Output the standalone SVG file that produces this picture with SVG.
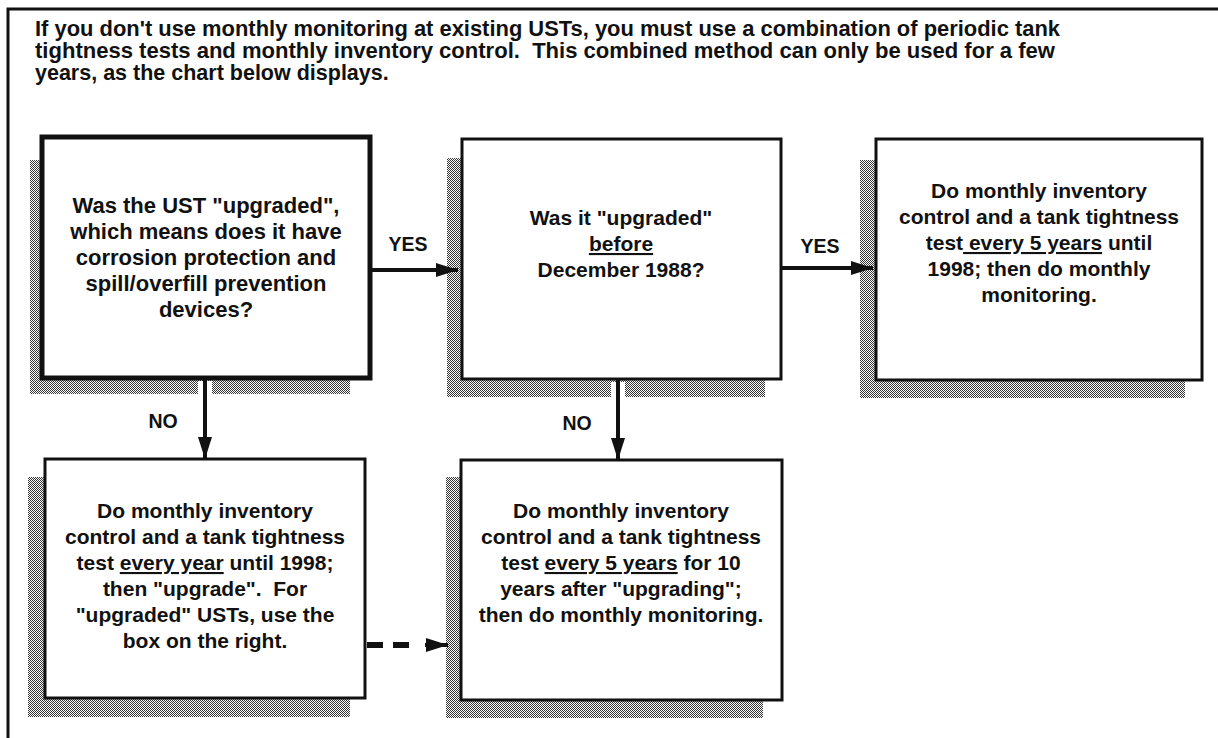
<svg xmlns="http://www.w3.org/2000/svg" width="1218" height="738" viewBox="0 0 1218 738">
<style>
.frame{fill:none;stroke:#111;stroke-width:3}
.box{fill:#fff;stroke:#111;stroke-width:3}
.thick{stroke-width:5}
.shadow{fill:url(#dither)}
.t{font-family:"Liberation Sans",Arial,Helvetica,sans-serif;font-weight:bold;font-size:21px;text-anchor:middle;fill:#111}
.big{font-size:22px}
.intro{font-size:21.5px;text-anchor:start}
.lbl{font-size:19.5px}
.u{text-decoration:underline}
.conn{stroke:#111;stroke-width:4;fill:none}
.gap{stroke:#fff;stroke-width:14;fill:none}
.dash{stroke-width:6;stroke-dasharray:16 10}
</style>
<defs>
<pattern id="dither" width="2" height="2" patternUnits="userSpaceOnUse">
<rect width="2" height="2" fill="#fff"/>
<rect width="1" height="1" fill="#333"/>
<rect x="1" y="1" width="1" height="1" fill="#333"/>
</pattern>
<marker id="ah" viewBox="0 0 22 14" refX="22" refY="7" markerWidth="22" markerHeight="14" markerUnits="userSpaceOnUse" orient="auto">
<path d="M0,0 L22,7 L0,14 z" fill="#111"/>
</marker>
</defs>
<rect width="1218" height="738" fill="#fff"/>
<path class="frame" d="M8,738 V9 H1218"/>
<g id="intro">
<text class="t intro" x="35" y="36" textLength="1025" lengthAdjust="spacingAndGlyphs">If you don't use monthly monitoring at existing USTs, you must use a combination of periodic tank</text>
<text class="t intro" x="35" y="58" textLength="1020" lengthAdjust="spacingAndGlyphs">tightness tests and monthly inventory control.&#160; This combined method can only be used for a few</text>
<text class="t intro" x="35" y="80">years, as the chart below displays.</text>
</g>
<g id="node-q1">
<rect class="shadow" x="30" y="160" width="320" height="234"/>
<rect class="box thick" x="42" y="137" width="328" height="241"/>
<text class="t big" x="206" y="213">Was the UST "upgraded",</text>
<text class="t big" x="206" y="239">which means does it have</text>
<text class="t big" x="206" y="265">corrosion protection and</text>
<text class="t big" x="206" y="291">spill/overfill prevention</text>
<text class="t big" x="206" y="317">devices?</text>
</g>
<g id="node-q2">
<rect class="shadow" x="447" y="158" width="318" height="239"/>
<rect class="box" x="462" y="139" width="319" height="240"/>
<text class="t" x="621" y="225">Was it "upgraded"</text>
<text class="t" x="621" y="251"><tspan class="u">before</tspan></text>
<text class="t" x="621" y="277">December 1988?</text>
</g>
<g id="node-yes5">
<rect class="shadow" x="860" y="160" width="325" height="238"/>
<rect class="box" x="876" y="139" width="326" height="241"/>
<text class="t" x="1039" y="198">Do monthly inventory</text>
<text class="t" x="1039" y="224">control and a tank tightness</text>
<text class="t" x="1039" y="250">test<tspan class="u"> every 5 years</tspan> until</text>
<text class="t" x="1039" y="276">1998; then do monthly</text>
<text class="t" x="1039" y="302">monitoring.</text>
</g>
<g id="node-noyear">
<rect class="shadow" x="28" y="477" width="322" height="240"/>
<rect class="box" x="45" y="459" width="320" height="239"/>
<text class="t" x="205" y="518">Do monthly inventory</text>
<text class="t" x="205" y="544">control and a tank tightness</text>
<text class="t" x="205" y="570">test <tspan class="u">every year</tspan> until 1998;</text>
<text class="t" x="205" y="596">then "upgrade".&#160; For</text>
<text class="t" x="205" y="622">"upgraded" USTs, use the</text>
<text class="t" x="205" y="648">box on the right.</text>
</g>
<g id="node-no10">
<rect class="shadow" x="446" y="477" width="317" height="241"/>
<rect class="box" x="461" y="460" width="321" height="240"/>
<text class="t" x="621" y="518">Do monthly inventory</text>
<text class="t" x="621" y="544">control and a tank tightness</text>
<text class="t" x="621" y="570">test <tspan class="u">every 5 years</tspan> for 10</text>
<text class="t" x="621" y="596">years after "upgrading";</text>
<text class="t" x="621" y="622">then do monthly monitoring.</text>
</g>
<g id="connectors">
<path class="gap" d="M205,381 V396"/>
<path class="gap" d="M618,382 V398"/>
<path class="conn" d="M370,270 H458" marker-end="url(#ah)"/>
<path class="conn" d="M781,268 H873" marker-end="url(#ah)"/>
<path class="conn" d="M205,378 V459" marker-end="url(#ah)"/>
<path class="conn" d="M618,380 V460" marker-end="url(#ah)"/>
<path class="conn dash" d="M367,645 H409"/>
<path class="conn" d="M425,645 H448" stroke-width="5" marker-end="url(#ah)"/>
<text class="t lbl" x="408" y="251">YES</text>
<text class="t lbl" x="820" y="253">YES</text>
<text class="t lbl" x="163" y="428">NO</text>
<text class="t lbl" x="577" y="430">NO</text>
</g>
</svg>
